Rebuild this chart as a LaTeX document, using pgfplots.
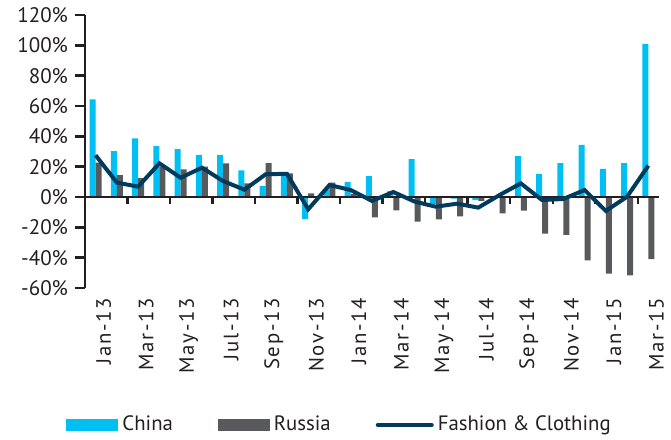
\documentclass[border=0pt]{standalone}
\usepackage{pgfplots}
\pgfplotsset{compat=1.18}
\usepackage{fontspec}
\setmainfont{PT Sans}
\newfontfamily\tickfont[LetterSpace=8]{PT Sans}
\definecolor{chinac}{HTML}{00BFF3}
\definecolor{russiac}{HTML}{58595B}
\definecolor{fashc}{HTML}{003A5D}
\definecolor{txt}{HTML}{231F20}
\begin{document}
\begin{tikzpicture}
\begin{axis}[
  scale only axis,
  width=287pt, height=136.5pt,
  xmin=-0.5, xmax=26.5,
  ymin=-60, ymax=120,
  axis y line*=left,
  axis x line*=bottom,
  x axis line style={draw=none},
  y axis line style={line width=1.2pt, color=txt},
  xtick={0,2,...,26},
  xticklabels={Jan-13,Mar-13,May-13,Jul-13,Sep-13,Nov-13,Jan-14,Mar-14,May-14,Jul-14,Sep-14,Nov-14,Jan-15,Mar-15},
  xtick style={draw=none},
  xticklabel style={rotate=90, anchor=east, font=\tickfont\fontsize{10.4}{12}\selectfont, text=txt, yshift=-4pt, inner sep=0pt},
  ytick={-60,-40,...,120},
  yticklabels={-60\%,-40\%,-20\%,0\%,20\%,40\%,60\%,80\%,100\%,120\%},
  yticklabel style={font=\fontsize{10.5}{12}\selectfont, text=txt},
  ytick style={line width=1.2pt, color=txt},
  tick align=outside,
  major tick length=5pt,
  clip=false,
  legend columns=3,
  legend style={draw=none, fill=none, at={(-0.033,-0.502)}, anchor=west, inner sep=0pt,
    font=\fontsize{10.4}{12}\selectfont, text=txt,
    /tikz/every even column/.append style={column sep=20.5pt}},
  legend cell align=left,
]
\addplot[ybar, bar width=3pt, bar shift=-1.5pt, fill=chinac, draw=none,
  legend image code/.code={\fill[chinac] (0pt,-3pt) rectangle (26pt,3pt);}]
  coordinates {(0,64.4)(1,30.3)(2,38.7)(3,33.6)(4,31.6)(5,27.7)(6,27.7)(7,17.6)(8,7.3)(9,15.6)(10,-14.5)(11,5)(12,9.9)(13,13.8)(14,3.8)(15,25)(16,-4.5)(17,-1)(18,-2)(19,0)(20,27)(21,15.2)(22,22.4)(23,34.3)(24,18.5)(25,22.4)(26,100.9)};
\addlegendentry{China}
\addplot[ybar, bar width=3pt, bar shift=1.5pt, fill=russiac, draw=none,
  legend image code/.code={\fill[russiac] (0pt,-3pt) rectangle (26pt,3pt);}]
  coordinates {(0,22.6)(1,14.5)(2,12.5)(3,20)(4,18.2)(5,20)(6,22.2)(7,9)(8,22.4)(9,15.6)(10,2.4)(11,9.5)(12,2)(13,-13.5)(14,-8.8)(15,-16.3)(16,-14.8)(17,-12.7)(18,-2.5)(19,-10.8)(20,-9)(21,-24.2)(22,-25)(23,-41.8)(24,-50.5)(25,-51.6)(26,-41)};
\addlegendentry{Russia}
\draw[line width=1.3pt, color=txt] (axis cs:-0.5,0) -- (axis cs:26.5,0);
\pgfplotsinvokeforeach{1.5,3.5,5.5,7.5,9.5,11.5,13.5,15.5,17.5,19.5,21.5,23.5,25.5}{
  \draw[line width=1.2pt, color=txt] (axis cs:#1,0) -- ([yshift=-3.5pt]axis cs:#1,0);
}
\addplot[color=fashc, line width=2pt, mark=none,
  legend image code/.code={\draw[fashc, line width=2pt, line cap=round] (0pt,0pt) -- (27pt,0pt);}]
  coordinates {(0,27.5)(1,9.5)(2,6.8)(3,22.2)(4,12.7)(5,19.3)(6,10.5)(7,4.8)(8,15)(9,15.3)(10,-8.1)(11,7.9)(12,4.6)(13,-2.6)(14,3.3)(15,-3)(16,-6.4)(17,-4.4)(18,-7)(19,1.3)(20,9)(21,-2)(22,-1.3)(23,4.6)(24,-9.2)(25,0.2)(26,20.7)};
\addlegendentry{Fashion \& Clothing}
\end{axis}
\pgfresetboundingbox
\path (-42.5pt,-76pt) rectangle (293pt,144pt);
\end{tikzpicture}
\end{document}
